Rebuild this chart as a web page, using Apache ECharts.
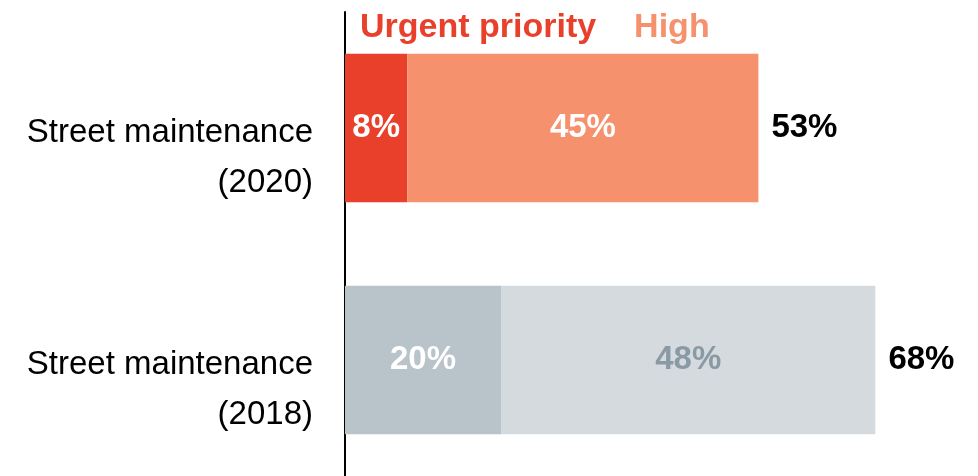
<!DOCTYPE html>
<html>
<head>
<meta charset="utf-8">
<script src="https://cdn.jsdelivr.net/npm/echarts@6/dist/echarts.min.js"></script>
<style>
  html, body { margin: 0; padding: 0; background: #fff; }
  #chart { width: 978px; height: 476px; }
</style>
</head>
<body>
<div id="chart"></div>
<script>
// data
const categories = ['Street maintenance\n(2020)', 'Street maintenance\n(2018)'];
const urgent = [8, 20];
const high = [45, 48];
const totals = [53, 68];

const urgentColors = ['#E8402A', '#B9C4CA'];
const highColors = ['#F6916E', '#D5DADE'];
const highLabelColors = ['#FFFFFF', '#8A9AA4'];

const labelFont = { fontFamily: 'Liberation Sans', fontWeight: 'bold', fontSize: 33 };

const chart = echarts.init(document.getElementById('chart'));
chart.setOption({
  animation: false,
  legend: {
    left: 350,
    top: 6,
    icon: 'none',
    itemWidth: 0,
    itemGap: 33,
    selectedMode: false,
    textStyle: { fontFamily: 'Liberation Sans', fontWeight: 'bold', fontSize: 34 },
    data: [
      { name: 'Urgent priority', textStyle: { color: '#E8402A' } },
      { name: 'High', textStyle: { color: '#F6916E' } }
    ]
  },
  grid: { left: 345, top: 12, width: 624, height: 467 },
  xAxis: { type: 'value', min: 0, max: 80, show: false },
  yAxis: {
    type: 'category',
    inverse: true,
    data: categories,
    axisLine: { lineStyle: { color: '#000', width: 2 } },
    axisTick: { show: false },
    axisLabel: {
      margin: 32,
      align: 'right',
      color: '#000',
      fontFamily: 'Liberation Sans',
      fontSize: 33,
      lineHeight: 50,
      // a taller empty first line pushes the block down so line one sits near the bar centre
      formatter: v => '{gap| }\n' + v.split('\n').map(s => '{t|' + s + '}').join('\n'),
      rich: {
        gap: { lineHeight: 60, fontSize: 10 },
        t: { fontFamily: 'Liberation Sans', fontSize: 33, lineHeight: 50, color: '#000' }
      }
    }
  },
  series: [
    {
      name: 'Urgent priority',
      type: 'bar',
      stack: 'a',
      barWidth: '64%',
      data: urgent.map((v, i) => ({ value: v, itemStyle: { color: urgentColors[i] } })),
      label: { show: true, position: 'inside', color: '#fff', formatter: '{c}%', ...labelFont }
    },
    {
      name: 'High',
      type: 'bar',
      stack: 'a',
      data: high.map((v, i) => ({
        value: v,
        itemStyle: { color: highColors[i] },
        label: { color: highLabelColors[i] }
      })),
      label: { show: true, position: 'inside', formatter: '{c}%', ...labelFont }
    },
    {
      name: 'Total',
      type: 'bar',
      stack: 'a',
      data: totals.map(() => 0),
      itemStyle: { color: 'transparent' },
      label: {
        show: true,
        position: 'right',
        distance: 13,
        color: '#000',
        formatter: p => totals[p.dataIndex] + '%',
        ...labelFont
      }
    }
  ]
});
</script>
</body>
</html>
